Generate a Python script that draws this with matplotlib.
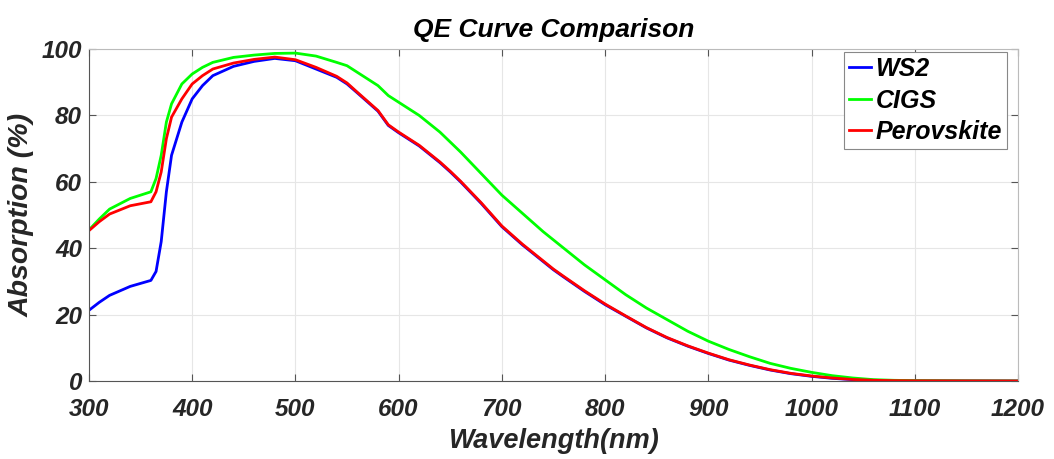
import numpy as np
import matplotlib
matplotlib.use('Agg')
import matplotlib.pyplot as plt

# Wavelength grid (nm) and absorption (%)
wavelength = [300, 310, 320, 340, 360, 365, 370, 375, 380, 390, 400, 410, 420, 440, 460,
              480, 500, 520, 540, 550, 560, 580, 590, 600, 620, 640, 650, 660, 680, 700,
              720, 740, 750, 760, 780, 800, 820, 840, 860, 880, 900, 920, 940, 960, 980,
              1000, 1020, 1040, 1060, 1080, 1100, 1150, 1200]

ws2 = [21.3, 23.7, 25.8, 28.5, 30.3, 33.0, 42.0, 57.0, 68.0, 78.0, 85.0, 89.0, 92.0, 94.8, 96.3,
       97.2, 96.5, 94.0, 91.5, 89.5, 86.8, 81.3, 77.0, 74.8, 70.8, 65.8, 63.0, 60.0, 53.5, 46.5,
       41.0, 36.0, 33.5, 31.3, 27.0, 23.0, 19.5, 16.0, 13.0, 10.5, 8.3, 6.3, 4.7, 3.3, 2.2,
       1.4, 0.8, 0.4, 0.2, 0.1, 0.05, 0.02, 0.0]

cigs = [45.5, 48.8, 51.8, 55.0, 57.0, 61.0, 68.0, 78.0, 83.5, 89.5, 92.5, 94.5, 96.0, 97.5, 98.2,
        98.7, 98.8, 97.9, 96.0, 95.0, 93.0, 89.0, 86.0, 84.0, 80.0, 75.0, 72.0, 69.0, 62.5, 56.0,
        50.5, 45.0, 42.5, 40.0, 35.0, 30.5, 26.0, 22.0, 18.5, 15.0, 12.0, 9.5, 7.3, 5.3, 3.8,
        2.6, 1.6, 0.9, 0.4, 0.2, 0.1, 0.03, 0.0]

perovskite = [45.3, 48.0, 50.3, 52.8, 54.0, 57.0, 63.0, 73.0, 79.5, 85.0, 89.5, 92.0, 94.0, 95.8, 96.9,
              97.6, 96.8, 94.5, 91.8, 89.8, 87.0, 81.5, 77.2, 75.0, 71.0, 66.0, 63.2, 60.2, 53.7, 46.7,
              41.2, 36.2, 33.7, 31.5, 27.2, 23.2, 19.6, 16.1, 13.1, 10.6, 8.4, 6.4, 4.8, 3.4, 2.3,
              1.5, 0.9, 0.45, 0.2, 0.1, 0.05, 0.02, 0.0]

font = ['Liberation Sans', 'DejaVu Sans']

fig = plt.figure(figsize=(10.54, 4.59), dpi=100)
ax = fig.add_axes([0.0844, 0.170, 0.8814, 0.723])

ax.plot(wavelength, ws2, color='#0000ff', lw=2, label='WS2')
ax.plot(wavelength, cigs, color='#00ff00', lw=2, label='CIGS')
ax.plot(wavelength, perovskite, color='#ff0000', lw=2, label='Perovskite')

ax.set_xlim(300, 1200)
ax.set_ylim(0, 100)
ax.set_xticks(np.arange(300, 1201, 100))
ax.set_yticks(np.arange(0, 101, 20))
ax.grid(True, color='#e6e6e6', lw=0.8)
ax.set_axisbelow(True)

ax.tick_params(direction='in', top=True, right=True, length=5, color='#555555')
ax.tick_params(axis='x', pad=12)
ax.tick_params(axis='y', pad=5)
for lab in ax.get_xticklabels() + ax.get_yticklabels():
    lab.set_family(font)
    lab.set_fontsize(17.5)
    lab.set_fontweight('bold')
    lab.set_fontstyle('italic')
    lab.set_color('#262626')
for sp in ax.spines.values():
    sp.set_color('#555555')
    sp.set_linewidth(0.8)
ax.spines['top'].set_color('#bbbbbb')
ax.spines['right'].set_color('#bbbbbb')

ax.set_title('QE Curve Comparison', family=font, fontsize=19, fontweight='bold',
             fontstyle='italic', pad=9)
ax.set_xlabel('Wavelength(nm)', family=font, fontsize=19.5, fontweight='bold',
              fontstyle='italic', color='#262626', labelpad=5)
ax.set_ylabel('Absorption (%)', family=font, fontsize=20.5, fontweight='bold',
              fontstyle='italic', color='#262626', labelpad=5)

leg = ax.legend(loc='upper right', bbox_to_anchor=(0.988, 0.991), fancybox=False,
                handlelength=0.9, handletextpad=0.17, borderpad=0.2, labelspacing=0.3,
                borderaxespad=0,
                prop={'family': font, 'size': 18, 'weight': 'bold', 'style': 'italic'})
leg.get_frame().set_edgecolor('#888888')
leg.get_frame().set_linewidth(0.8)
leg.get_frame().set_alpha(1)

fig.savefig('out.png', dpi=100)
